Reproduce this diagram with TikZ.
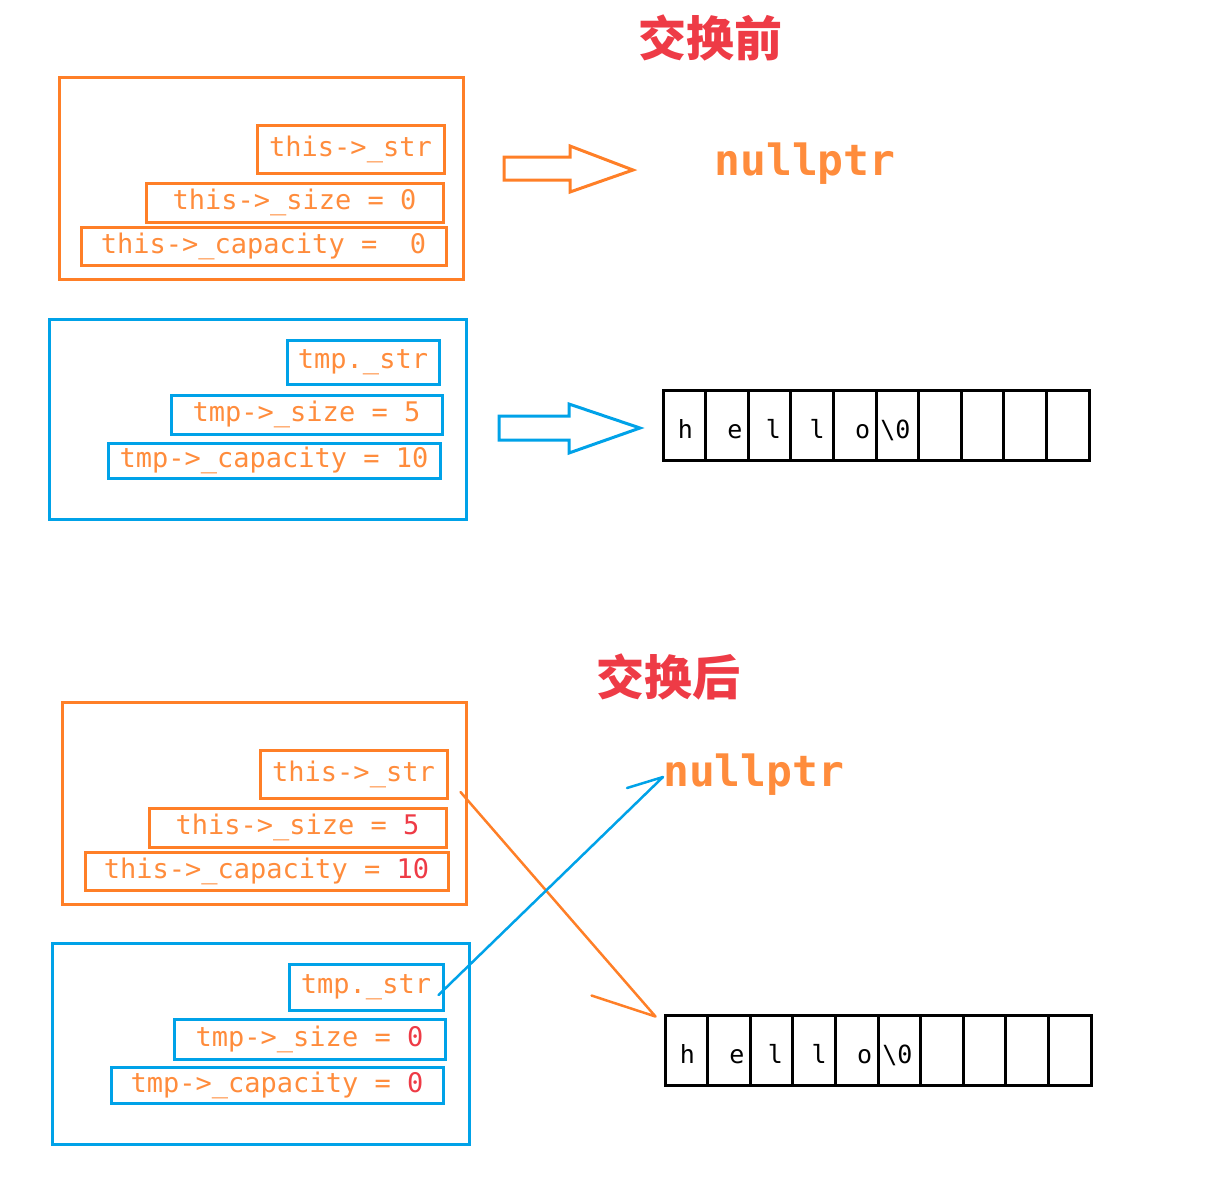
\documentclass[tikz,border=0pt]{standalone}
\usepackage{fontspec}
\setmonofont{DejaVu Sans Mono}
\newfontfamily\cjk{Noto Sans CJK SC}
\usepackage{xcolor}
\usepackage{tikz}
\usetikzlibrary{positioning}
\definecolor{swOrange}{HTML}{FF7F27}
\definecolor{swText}{HTML}{FF8C3C}
\definecolor{swBlue}{HTML}{00A2E8}
\definecolor{swRed}{HTML}{EE3B46}
\newcommand{\rednum}[1]{\textcolor{swRed}{#1}}

\begin{document}
\begin{tikzpicture}[x=1pt,y=-1pt,font=\ttfamily\fontsize{27}{31}\selectfont,
  obj/.style={rectangle,draw,line width=3pt,inner sep=0pt},
  fld/.style={rectangle,draw,line width=3pt,inner sep=0pt,text=swText},
  cell/.style={rectangle,draw=black,line width=3pt,minimum width=42.6pt,minimum height=70pt,inner sep=0pt},
  chr/.style={font=\ttfamily\fontsize{25}{29}\selectfont,inner sep=0pt,anchor=base},
  ttl/.style={font=\cjk\bfseries\fontsize{48}{54}\selectfont,text=swRed,inner sep=0pt},
  np/.style={font=\ttfamily\bfseries\fontsize{43}{48}\selectfont,text=swText,inner sep=0pt},
  blk/.style={line width=3pt,line join=miter},
  ptr/.style={line width=2.5pt,line cap=round,line join=round}]
\useasboundingbox (0,0) rectangle (1209,1179);
% ---- before swap ----
\node[ttl] (before) at (710,38) {交换前};
\node[obj,draw=swOrange,minimum width=404pt,minimum height=202pt] (thisA) at (261,178) {};
\node[fld,draw=swOrange,minimum width=187pt,minimum height=48pt] (strA) at (350.5,149) {this->\_str};
\node[fld,draw=swOrange,minimum width=297pt,minimum height=39pt] (sizeA) at (294.5,202.5) {this->\_size = 0};
\node[fld,draw=swOrange,minimum width=365pt,minimum height=38pt] (capA) at (263.5,246) {this->\_capacity =\ \ 0};
\node[obj,draw=swBlue,minimum width=417pt,minimum height=200pt] (tmpA) at (257.5,419) {};
\node[fld,draw=swBlue,minimum width=152pt,minimum height=44pt] (tstrA) at (363,362) {tmp.\_str};
\node[fld,draw=swBlue,minimum width=271pt,minimum height=39pt] (tsizeA) at (306.5,414.5) {tmp->\_size = 5};
\node[fld,draw=swBlue,minimum width=332pt,minimum height=35pt] (tcapA) at (274,460.5) {tmp->\_capacity = 10};
\draw[blk,swOrange] (504,157) -- (570,157) -- (570,146) -- (633,170) -- (570,192) -- (570,180) -- (504,180) -- cycle;
\draw[blk,swBlue] (499,416) -- (569,416) -- (569,404) -- (640,428) -- (569,453) -- (569,440) -- (499,440) -- cycle;
\node[np] (nulA) at (805,164) {nullptr};
\foreach \i in {1,...,10}
  \node[cell] (a\i) at ({663+(\i-0.5)*42.6},425) {};
\foreach \i/\ch/\dx in {1/h/1,2/e/8,3/l/4,4/l/5,5/o/8,6/{\textbackslash 0}/-2}
  \node[chr] (ca\i) at ([xshift=\dx pt,yshift=-13pt]a\i.center) {\ch};
% ---- after swap ----
\node[ttl] (after) at (668,677) {交换后};
\node[obj,draw=swOrange,minimum width=404pt,minimum height=202pt] (thisB) at (264,803) {};
\node[fld,draw=swOrange,minimum width=187pt,minimum height=48pt] (strB) at (353.5,774) {this->\_str};
\node[fld,draw=swOrange,minimum width=297pt,minimum height=39pt] (sizeB) at (297.5,827.5) {this->\_size = \rednum{5}};
\node[fld,draw=swOrange,minimum width=363pt,minimum height=38pt] (capB) at (266.5,871) {this->\_capacity = \rednum{10}};
\node[obj,draw=swBlue,minimum width=417pt,minimum height=201pt] (tmpB) at (260.5,1043.5) {};
\node[fld,draw=swBlue,minimum width=154pt,minimum height=46pt] (tstrB) at (366,987) {tmp.\_str};
\node[fld,draw=swBlue,minimum width=271pt,minimum height=40pt] (tsizeB) at (309.5,1039) {tmp->\_size = \rednum{0}};
\node[fld,draw=swBlue,minimum width=332pt,minimum height=36pt] (tcapB) at (277,1085) {tmp->\_capacity = \rednum{0}};
\node[np,anchor=west] (nulB) at (663,775) {nullptr};
\foreach \i in {1,...,10}
  \node[cell] (b\i) at ({665+(\i-0.5)*42.6},1050) {};
\foreach \i/\ch/\dx in {1/h/1,2/e/8,3/l/4,4/l/5,5/o/8,6/{\textbackslash 0}/-2}
  \node[chr] (cb\i) at ([xshift=\dx pt,yshift=-13pt]b\i.center) {\ch};
\draw[ptr,swOrange] ([shift={(12,18)}]strB.east) -- ([shift={(-8,3)}]b1.north west) -- +(-64,-21);
\draw[ptr,swBlue] ([shift={(-6,8)}]tstrB.east) -- ([yshift=-2pt]nulB.west) -- +(-36,11);
\end{tikzpicture}
\end{document}
